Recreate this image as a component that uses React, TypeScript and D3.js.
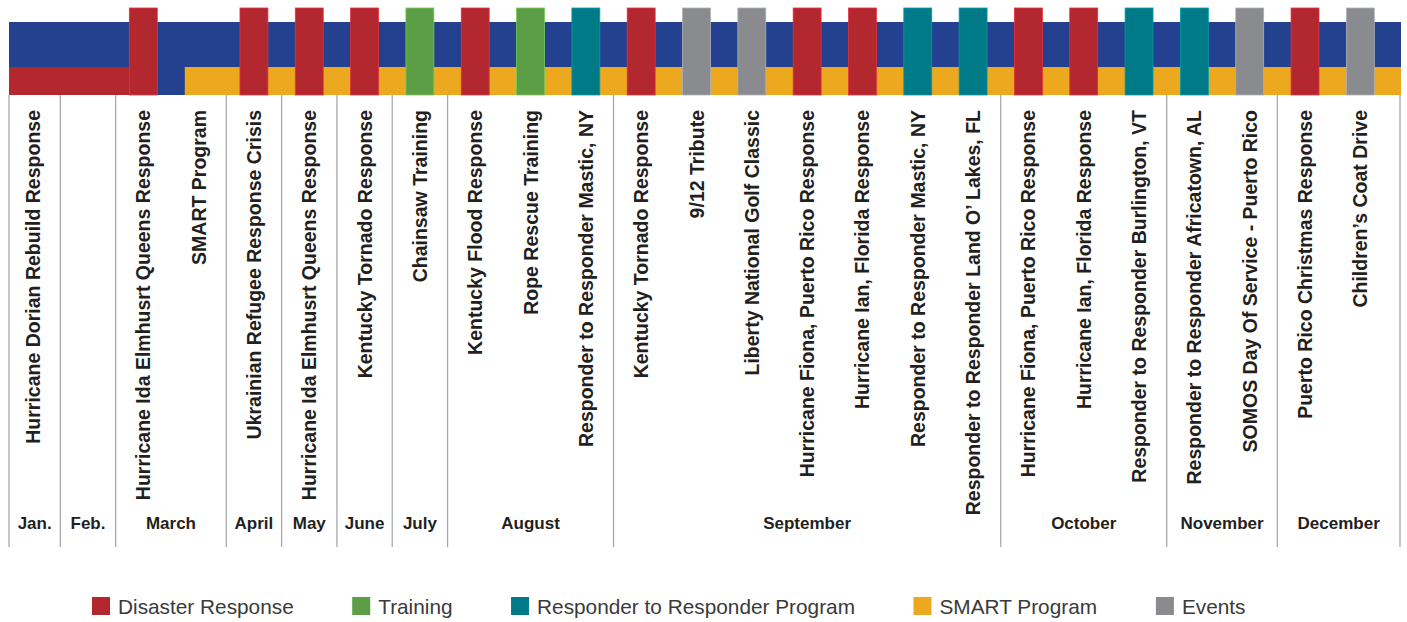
import React from 'react';
import * as d3 from 'd3';

// categories + colours (legend order)
const categories = ['Disaster Response', 'Training', 'Responder to Responder Program', 'SMART Program', 'Events'];
const categoryColors = ['#b3272f', '#5c9e45', '#007a87', '#eca91f', '#898b8e'];

// one slot per event, in order across the year ("" = empty slot)
const eventNames = [
  'Hurricane Dorian Rebuild Response',
  '',
  'Hurricane Ida Elmhusrt Queens Response',
  'SMART Program',
  'Ukrainian Refugee Response Crisis',
  'Hurricane Ida Elmhusrt Queens Response',
  'Kentucky Tornado Response',
  'Chainsaw Training',
  'Kentucky Flood Response',
  'Rope Rescue Training',
  'Responder to Responder Mastic, NY',
  'Kentucky Tornado Response',
  '9/12 Tribute',
  'Liberty National Golf Classic',
  'Hurricane Fiona, Puerto Rico Response',
  'Hurricane Ian, Florida Response',
  'Responder to Responder Mastic, NY',
  'Responder to Responder Land O\u2019 Lakes, FL',
  'Hurricane Fiona, Puerto Rico Response',
  'Hurricane Ian, Florida Response',
  'Responder to Responder Burlington, VT',
  'Responder to Responder Africatown, AL',
  'SOMOS Day Of Service - Puerto Rico',
  'Puerto Rico Christmas Response',
  'Children\u2019s Coat Drive',
];

const eventMonths = [
  'Jan.', 'Feb.', 'March', 'March', 'April', 'May', 'June', 'July',
  'August', 'August', 'August',
  'September', 'September', 'September', 'September', 'September', 'September', 'September',
  'October', 'October', 'October',
  'November', 'November',
  'December', 'December',
];

// bar category for each slot (null = no bar)
const eventTypes: (string | null)[] = [
  null, null, 'Disaster Response', null, 'Disaster Response', 'Disaster Response', 'Disaster Response',
  'Training', 'Disaster Response', 'Training', 'Responder to Responder Program',
  'Disaster Response', 'Events', 'Events', 'Disaster Response', 'Disaster Response',
  'Responder to Responder Program', 'Responder to Responder Program',
  'Disaster Response', 'Disaster Response', 'Responder to Responder Program',
  'Responder to Responder Program', 'Events',
  'Disaster Response', 'Events',
];

// ongoing programs drawn as the lower strip, in slot units
const ongoingCategory = ['Disaster Response', 'SMART Program'];
const ongoingStart = [0, 3.25];
const ongoingEnd = [2.5, 25];

const W = 1407;
const H = 622;
const FONT = "'Liberation Sans', Arial, Helvetica, sans-serif";

const colorOf = d3.scaleOrdinal<string, string>().domain(categories).range(categoryColors);

function textWidth(s: string, font: string) {
  const c = document.createElement('canvas').getContext('2d');
  if (!c) return s.length * 10;
  c.font = font;
  return c.measureText(s).width;
}

export default function App() {
  const left = 9;
  const right = 1401;
  const n = eventNames.length;

  const x = d3.scaleBand<number>().domain(d3.range(n)).range([5, 1388]);
  const slot = d3.scaleLinear().domain([0, n]).range(x.range());
  const barW = x.bandwidth() * 0.505;

  const barTop = 8;
  const bandTop = 22;
  const bandMid = 67;
  const bandBottom = 95;
  const lineBottom = 547;

  // month boundaries
  const bounds: number[] = [0];
  eventMonths.forEach((m, i) => {
    if (i > 0 && m !== eventMonths[i - 1]) bounds.push(i);
  });
  bounds.push(n);
  const boundX = (i: number) => (i === n ? right - 1 : i === 0 ? left : slot(i));
  const months = bounds.slice(0, -1).map((b, k) => ({
    name: eventMonths[b],
    x0: boundX(b),
    x1: boundX(bounds[k + 1]),
  }));

  // legend layout
  const legendFont = `20.8px ${FONT}`;
  let lx = 92;
  const legend = categories.map((c, i) => {
    const item = { name: c, color: categoryColors[i], x: lx };
    lx += 26 + textWidth(c, legendFont) + 58.5;
    return item;
  });

  return (
    <svg width={W} height={H} style={{ position: 'absolute', left: 0, top: 0, background: '#fff' }}>
      <style>{'body{margin:0;overflow:hidden}'}</style>

      {/* base band */}
      <rect x={left} y={bandTop} width={right - left} height={bandBottom - bandTop} fill="#23418f" />

      {/* ongoing program strips */}
      {ongoingCategory.map((c, i) => {
        const x0 = Math.max(left, slot(ongoingStart[i]));
        const x1 = ongoingEnd[i] >= n ? right : slot(ongoingEnd[i]);
        return <rect key={'o' + i} x={x0} y={bandMid} width={x1 - x0} height={bandBottom - bandMid} fill={colorOf(c)} />;
      })}

      {/* month dividers */}
      {bounds.map((b, i) => (
        <line key={'d' + i} x1={boundX(b)} x2={boundX(b)} y1={bandBottom} y2={lineBottom} stroke="#a8a9ab" strokeWidth={1.3} />
      ))}

      {/* event bars */}
      {eventTypes.map((t, i) =>
        t ? (
          <rect
            key={'b' + i}
            x={(x(i) as number) + (x.bandwidth() - barW) / 2}
            y={barTop}
            width={barW}
            height={bandBottom - barTop}
            fill={colorOf(t)}
            stroke={d3.color(colorOf(t))!.brighter(0.7).formatHex()}
            strokeWidth={0.8}
          />
        ) : null
      )}

      {/* event labels */}
      {eventNames.map((name, i) => {
        if (!name) return null;
        const cx = (x(i) as number) + x.bandwidth() / 2;
        return (
          <text
            key={'t' + i}
            transform={`translate(${cx},110) rotate(-90)`}
            textAnchor="end"
            dy="0.36em"
            fontFamily={FONT}
            fontWeight="bold"
            fontSize={19.5}
            fill="#231f20"
          >
            {name}
          </text>
        );
      })}

      {/* month labels */}
      {months.map((m, i) => (
        <text
          key={'m' + i}
          x={(m.x0 + m.x1) / 2}
          y={529}
          textAnchor="middle"
          fontFamily={FONT}
          fontWeight="bold"
          fontSize={17}
          fill="#231f20"
        >
          {m.name}
        </text>
      ))}

      {/* legend */}
      {legend.map((l) => (
        <g key={l.name} transform={`translate(${l.x},597)`}>
          <rect width={18} height={18} fill={l.color} />
          <text x={26} y={17} fontFamily={FONT} fontSize={20.8} fill="#3a3a3a">
            {l.name}
          </text>
        </g>
      ))}
    </svg>
  );
}
